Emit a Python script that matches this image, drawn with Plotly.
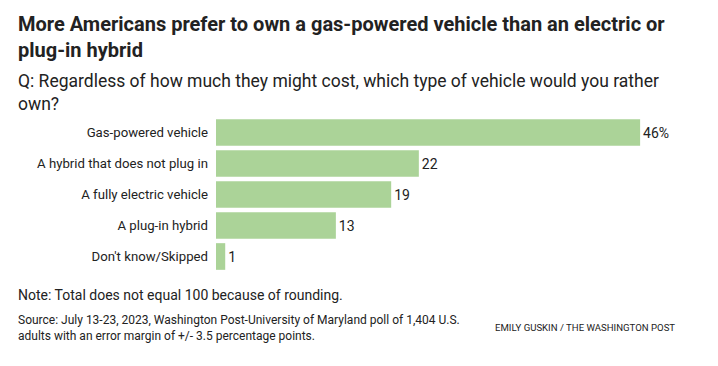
import plotly.graph_objects as go

categories = ["Gas-powered vehicle", "A hybrid that does not plug in", "A fully electric vehicle",
              "A plug-in hybrid", "Don't know/Skipped"]
values = [46, 22, 19, 13, 1]
value_labels = ["46%", "22", "19", "13", "1"]

W, H = 718, 366
L, R, T, B = 216, 41, 117, 94
pw, ph = W - L - R, H - T - B

def px(x):
    return (x - L) / pw

def py(y):
    return (H - B - y) / ph

FONT = "Roboto, sans-serif"
DARK = "#222222"

fig = go.Figure(go.Bar(
    x=values, y=categories, orientation="h",
    marker=dict(color="#abd398", line=dict(width=0)),
    text=value_labels, textposition="outside", cliponaxis=False,
    textfont=dict(family=FONT, size=14, color=DARK),
    hoverinfo="skip",
))

annos = [
    dict(text="<b>More Americans prefer to own a gas-powered vehicle than an electric or<br>plug-in hybrid</b>",
         x=px(16), y=py(10), size=20, color=DARK),
    dict(text="Q: Regardless of how much they might cost, which type of vehicle would you rather<br>own?",
         x=px(16), y=py(69), size=17.5, color=DARK),
    dict(text="Note: Total does not equal 100 because of rounding.",
         x=px(16), y=py(285), size=14, color=DARK),
    dict(text="Source: July 13-23, 2023, Washington Post-University of Maryland poll of 1,404 U.S.<br>adults with an error margin of +/- 3.5 percentage points.",
         x=px(16), y=py(311), size=12, color=DARK),
    dict(text="EMILY GUSKIN / THE WASHINGTON POST",
         x=px(493), y=py(320), size=9.6, color=DARK),
]
for a in annos:
    fig.add_annotation(text=a["text"], x=a["x"], y=a["y"], xref="paper", yref="paper",
                       xanchor="left", yanchor="top", align="left", showarrow=False,
                       font=dict(family=FONT, size=a["size"], color=a["color"]))

fig.update_layout(
    width=W, height=H, margin=dict(l=L, r=R, t=T, b=B),
    paper_bgcolor="white", plot_bgcolor="white",
    showlegend=False, bargap=0.14,
    xaxis=dict(range=[0, 50], visible=False, fixedrange=True),
    yaxis=dict(autorange="reversed", showgrid=False, showline=False, zeroline=False,
               ticks="", ticklabelstandoff=7,
               tickfont=dict(family=FONT, size=13.2, color=DARK), fixedrange=True),
    font=dict(family=FONT, color=DARK),
)

fig.write_html("out.html", config={"displayModeBar": False},
               post_script="document.body.style.margin='0';")
